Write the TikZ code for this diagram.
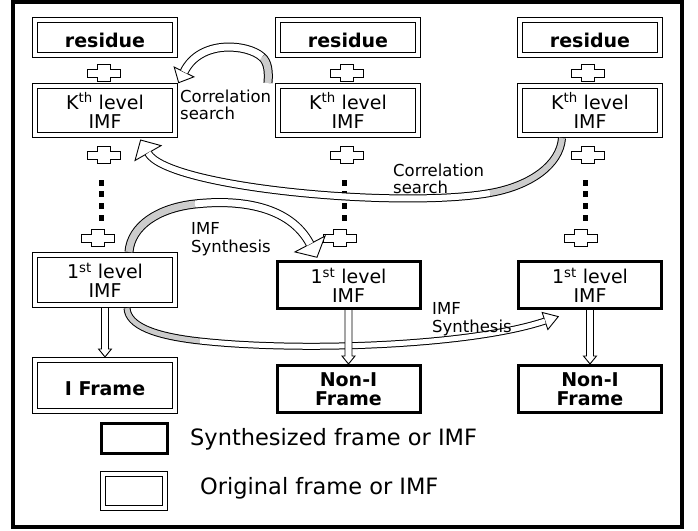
\documentclass[tikz,border=0pt]{standalone}
\usepackage{fontspec}
\setmainfont{DejaVu Sans}
\usetikzlibrary{calc}
\newcommand\boxfont{\fontsize{19}{19}\selectfont}
\newcommand\lblfont{\fontsize{16.5}{17.5}\selectfont}
\newcommand\legfont{\fontsize{22.5}{26}\selectfont}

\begin{document}
\begin{tikzpicture}[x=1pt,y=-1pt,
    origbox/.style={draw, double, double distance=4.5pt, line width=0.9pt,
      minimum width=139.7pt, inner sep=0pt, outer sep=3.2pt, align=center,
      font=\boxfont, execute at begin node={\rule{0pt}{20pt}}},
    synthbox/.style={draw, line width=3pt, minimum width=143pt,
      minimum height=47pt, inner sep=0pt, align=center, font=\boxfont},
    lbl/.style={font=\lblfont, align=left, inner sep=0pt, anchor=west},
    legtext/.style={font=\legfont, inner sep=0pt, anchor=base west},
    bandedge/.style={line width=9pt, black},
    bandwhite/.style={line width=7pt, white},
    bandgray/.style={line width=7pt, gray!40},
    headtip/.style={draw=black, fill=white, line width=0.9pt, line join=miter},
    hollowdown/.style={draw, fill=white, line width=0.9pt},
    plussign/.pic={\draw[fill=white, line width=1pt] (-6.5,-8.5) -- (6.5,-8.5) -- (6.5,-4) -- (16.5,-4) -- (16.5,4) -- (6.5,4) -- (6.5,8.5) -- (-6.5,8.5) -- (-6.5,4) -- (-16.5,4) -- (-16.5,-4) -- (-6.5,-4) -- cycle;}
  ]
  \useasboundingbox (0,0) rectangle (698,530);
  \draw[line width=4pt] (13,2) rectangle (682,527);

  % three columns of boxes
  \node[origbox, minimum height=34.7pt] (r1) at (105,37.5) {\textbf{residue}};
  \node[origbox, minimum height=34.7pt] (r2) at (348,37.5) {\textbf{residue}};
  \node[origbox, minimum height=34.7pt] (r3) at (590,37.5) {\textbf{residue}};
  \node[origbox, minimum height=48.7pt] (k1) at (105,110.5) {K\textsuperscript{th} level\\IMF};
  \node[origbox, minimum height=48.7pt] (k2) at (348,110.5) {K\textsuperscript{th} level\\IMF};
  \node[origbox, minimum height=48.7pt] (k3) at (590,110.5) {K\textsuperscript{th} level\\IMF};
  \node[origbox, minimum height=49.7pt] (f1) at (105,280) {1\textsuperscript{st} level\\IMF};
  \node[synthbox] (f2) at (348.5,285) {1\textsuperscript{st} level\\IMF};
  \node[synthbox] (f3) at (590,285) {1\textsuperscript{st} level\\IMF};
  \node[origbox, minimum height=50.7pt] (i1) at (105,385.5) {\textbf{I Frame}};
  \node[synthbox, font=\boxfont\bfseries] (n2) at (348.5,389) {Non-I\\Frame};
  \node[synthbox, font=\boxfont\bfseries] (n3) at (590,389) {Non-I\\Frame};

  % plus signs and dots
  \foreach \px/\py in {104/73, 347/73, 588/73, 104/155, 347/155, 588/155, 98/238, 340/238, 581/238}
    \pic at (\px,\py) {plussign};
  \foreach \cx in {101,344,585}
    \foreach \dy in {183,194,206,218}
      \fill (\cx-2.5,\dy-3) rectangle +(5,6);

  % correlation search, top
  \coordinate (a0) at ([xshift=-7pt]k2.north west);
  \coordinate (a1) at (262,57);
  \coordinate (a2) at ($(k1.north east)+(6,-11)$);
  \coordinate (at) at ($(a2)!-12pt!(200,40)$);
  \draw[bandedge] (a0) .. controls (269,72) and (268,62) .. (a1) .. controls (248,44) and (200,39) .. (a2);
  \draw[bandgray] (a0) .. controls (269,72) and (268,62) .. (a1);
  \draw[headtip] ($(a2)!11pt!90:(at)$) -- (at) -- ($(a2)!11pt!-90:(at)$) -- cycle;
  \draw[bandwhite] (a1) .. controls (248,44) and (200,39) .. (a2);

  % correlation search, bottom
  \coordinate (b0) at ([xshift=-28pt]k3.south);
  \coordinate (b1) at (490,193);
  \coordinate (b2) at ($(k1.south east)+(-30,15)$);
  \coordinate (bt) at ($(b2)!-15pt!(168,188)$);
  \draw[bandedge, line width=8pt] (b0) .. controls (560,165) and (530,186) .. (b1) .. controls (400,209) and (168,188) .. (b2);
  \draw[bandgray, line width=6pt] (b0) .. controls (560,165) and (530,186) .. (b1);
  \draw[headtip] ($(b2)!15pt!90:(bt)$) -- (bt) -- ($(b2)!15pt!-90:(bt)$) -- cycle;
  \draw[bandwhite, line width=6pt] (b1) .. controls (400,209) and (168,188) .. (b2);

  % IMF synthesis, top
  \coordinate (c0) at ([xshift=24pt]f1.north);
  \coordinate (c1) at (195,204);
  \coordinate (c2) at ($(f2.north)+(-38.5,-16)$);
  \coordinate (ct) at ($(c2)!-15pt!(290,206)$);
  \draw[bandedge] (c0) .. controls (131,226) and (158,208) .. (c1) .. controls (240,199) and (290,206) .. (c2);
  \draw[bandgray] (c0) .. controls (131,226) and (158,208) .. (c1);
  \draw[headtip] ($(c2)!17pt!90:(ct)$) -- (ct) -- ($(c2)!17pt!-90:(ct)$) -- cycle;
  \draw[bandwhite] (c1) .. controls (240,199) and (290,206) .. (c2);

  % IMF synthesis, bottom
  \coordinate (d0) at ([xshift=22pt]f1.south);
  \coordinate (d1) at (200,341);
  \coordinate (d2) at ($(f3.south west)+(28,11)$);
  \coordinate (dt) at ($(d2)!-14pt!(470,346)$);
  \draw[bandedge, line width=7pt] (d0) .. controls (128,326) and (155,336) .. (d1) .. controls (300,352) and (470,346) .. (d2);
  \draw[bandgray, line width=5pt] (d0) .. controls (128,326) and (155,336) .. (d1);
  \draw[headtip] ($(d2)!9pt!90:(dt)$) -- (dt) -- ($(d2)!9pt!-90:(dt)$) -- cycle;
  \draw[bandwhite, line width=5pt] (d1) .. controls (300,352) and (470,346) .. (d2);

  % down to the frames
  \foreach \from/\to in {f1/i1, f2/n2, f3/n3}
    \draw[hollowdown] ([xshift=-3.5pt]\from.south) -- ([xshift=-3.5pt,yshift=8pt]\to.north)
      -- ([xshift=-6.5pt,yshift=8pt]\to.north) -- (\to.north)
      -- ([xshift=6.5pt,yshift=8pt]\to.north) -- ([xshift=3.5pt,yshift=8pt]\to.north)
      -- ([xshift=3.5pt]\from.south);

  \node[lbl] (csa) at (180,105) {Correlation\\search};
  \node[lbl] (csb) at (393,179) {Correlation\\search};
  \node[lbl] (isa) at (191,239) {IMF\\Synthesis};
  \node[lbl] (isb) at (432,319) {IMF\\Synthesis};

  % legend
  \node[synthbox, minimum width=66pt, minimum height=30pt] (lsyn) at (134.5,438.5) {};
  \node[origbox, minimum width=61.7pt, minimum height=33.7pt] (lorg) at (134,491) {};
  \node[legtext] (lsyntext) at (190,445) {Synthesized frame or IMF};
  \node[legtext] (lorgtext) at (200,494) {Original frame or IMF};
\end{tikzpicture}
\end{document}
